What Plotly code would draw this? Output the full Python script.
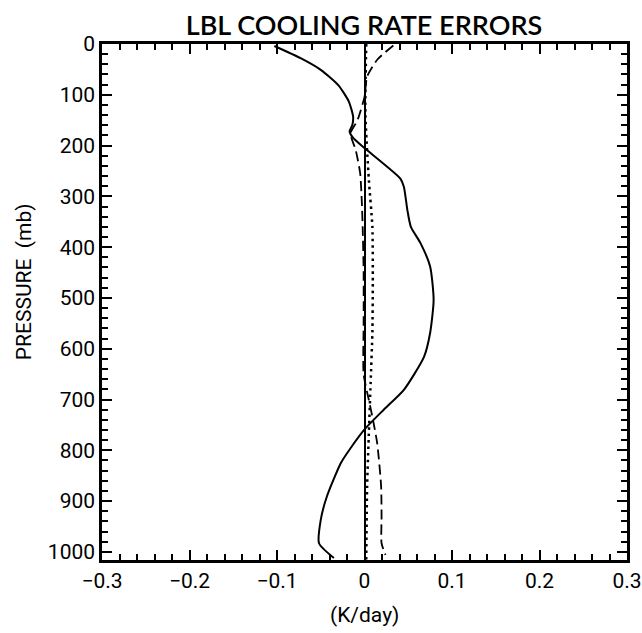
import plotly.graph_objects as go

# Solid curve
solid_p = [4, 28, 51, 81, 113, 143, 160, 172, 185, 205, 265, 281, 327, 360, 392, 438, 504, 569, 616, 681, 720, 757, 796, 825, 891, 937, 983, 1012]
solid_x = [-0.103, -0.073, -0.050, -0.030, -0.018, -0.013, -0.014, -0.017, -0.013, 0.000, 0.041, 0.045, 0.049, 0.053, 0.064, 0.075, 0.079, 0.075, 0.068, 0.045, 0.022, 0.001, -0.016, -0.027, -0.043, -0.050, -0.052, -0.035]

# Dashed curve
dash_p = [3, 31, 64, 104, 150, 176, 209, 254, 313, 366, 450, 550, 650, 701, 734, 786, 871, 930, 983, 1006]
dash_x = [0.033, 0.0145, 0.003, 0.0, -0.008, -0.016, -0.010, -0.005, -0.003, -0.002, -0.001, -0.001, -0.001, 0.005, 0.009, 0.0145, 0.019, 0.0195, 0.0195, 0.024]

# Dotted curve
dot_p = [0, 136, 268, 360, 471, 569, 668, 766, 871, 1015]
dot_x = [0.002, 0.001, 0.005, 0.009, 0.0095, 0.009, 0.007, 0.005, 0.003, 0.002]

tick_font = dict(family="Roboto, DejaVu Sans Condensed, Arial", size=21, color="black")

fig = go.Figure()
fig.add_trace(go.Scatter(x=solid_x, y=solid_p, mode="lines", line=dict(color="black", width=2, shape="spline", smoothing=0.6)))
fig.add_trace(go.Scatter(x=dash_x, y=dash_p, mode="lines", line=dict(color="black", width=1.8, dash="10px,5px", shape="spline", smoothing=0.6)))
fig.add_trace(go.Scatter(x=dot_x, y=dot_p, mode="lines", line=dict(color="black", width=2.5, dash="2.5px,4px", shape="spline", smoothing=0.6)))

fig.update_layout(
    width=642, height=633,
    margin=dict(l=102, r=15, t=44, b=73),
    paper_bgcolor="white", plot_bgcolor="white",
    showlegend=False,
    title=dict(text="LBL COOLING RATE ERRORS", x=0.567, xanchor="center", y=0.96, yanchor="middle",
               font=dict(family="Lato, Open Sans, Arial", size=27, color="black", weight=600)),
    xaxis=dict(range=[-0.3, 0.3000001], tickmode="linear", tick0=0, dtick=0.1,
               ticks="inside", ticklen=10, tickwidth=2, tickcolor="black",
               showline=True, linewidth=2.5, linecolor="black", mirror="ticks", showgrid=False, automargin=False,
               zeroline=True, zerolinecolor="black", zerolinewidth=2, tickfont=tick_font,
               minor=dict(dtick=0.02, ticks="inside", ticklen=6, tickwidth=1.5, tickcolor="black", showgrid=False)),
    yaxis=dict(range=[1016, 0], tickmode="linear", tick0=0, dtick=100,
               ticks="inside", ticklen=10, tickwidth=2, tickcolor="black",
               showline=True, linewidth=2.5, linecolor="black", mirror="ticks", showgrid=False, automargin=False,
               zeroline=False, tickfont=tick_font,
               minor=dict(dtick=20, ticks="inside", ticklen=6, tickwidth=1.5, tickcolor="black", showgrid=False)),
    annotations=[
        dict(text="PRESSURE  (mb)", xref="paper", yref="paper", x=-0.147, y=0.54, textangle=-90,
             showarrow=False, font=tick_font, xanchor="center", yanchor="middle"),
        dict(text="(K/day)", xref="paper", yref="paper", x=0.5, y=-0.107, showarrow=False,
             font=tick_font, xanchor="center", yanchor="middle"),
    ],
)

fig.write_html("out.html", config={"displayModeBar": False},
               post_script="document.body.style.margin='0';document.body.style.overflow='hidden';")
